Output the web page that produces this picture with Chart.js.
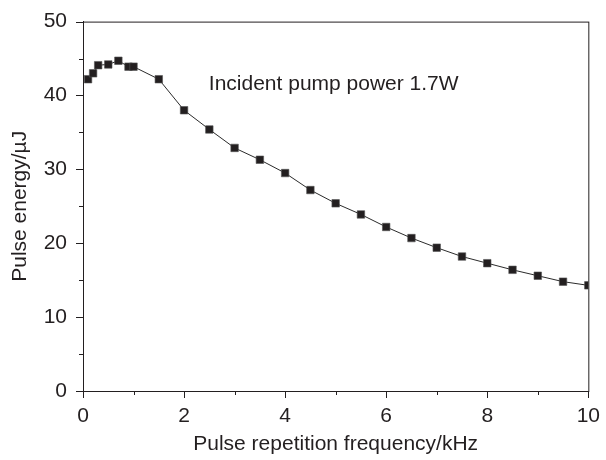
<!DOCTYPE html>
<html>
<head>
<meta charset="utf-8">
<script src="https://cdn.jsdelivr.net/npm/chart.js@4.4.0/dist/chart.umd.min.js"></script>
<style>
  html, body { margin: 0; padding: 0; background: #fff; }
  #wrap { width: 606px; height: 460px; }
</style>
</head>
<body>
<div id="wrap"><canvas id="myChart" width="606" height="460"></canvas></div>
<script>
// pulse repetition frequency (kHz) and pulse energy (uJ)
const frequencies = [0.1, 0.2, 0.3, 0.5, 0.7, 0.9, 1.0, 1.5, 2, 2.5, 3, 3.5, 4, 4.5, 5, 5.5, 6, 6.5, 7, 7.5, 8, 8.5, 9, 9.5, 10];
const energies = [42.2, 43.0, 44.1, 44.2, 44.7, 43.9, 43.9, 42.2, 38.0, 35.4, 32.9, 31.3, 29.5, 27.2, 25.4, 23.9, 22.2, 20.7, 19.4, 18.2, 17.3, 16.4, 15.6, 14.8, 14.3];
const xTicks = [0, 2, 4, 6, 8, 10];
const xMinorTicks = [1, 3, 5, 7, 9];
const yTicks = [0, 10, 20, 30, 40, 50];
const yMinorTicks = [5, 15, 25, 35, 45];
const noteText = 'Incident pump power 1.7W';

const FONT = 'Liberation Sans, Arial, Helvetica, sans-serif';
const INK = '#231f20';

const points = frequencies.map((f, i) => ({ x: f, y: energies[i] }));

// box round the plot, tick marks (long and short) and the label inside it
const framePlugin = {
  id: 'frame',
  afterDraw(chart) {
    const { ctx, chartArea: a, scales } = chart;
    ctx.save();
    ctx.strokeStyle = INK;
    ctx.lineWidth = 1;
    ctx.strokeRect(a.left + 0.5, a.top + 0.5, a.right - a.left, a.bottom - a.top);

    ctx.beginPath();
    xTicks.concat(xMinorTicks).forEach(v => {
      const px = Math.round(scales.x.getPixelForValue(v)) + 0.5;
      const len = xTicks.includes(v) ? 7 : 4;
      ctx.moveTo(px, a.bottom);
      ctx.lineTo(px, a.bottom + len);
    });
    yTicks.concat(yMinorTicks).forEach(v => {
      const py = Math.round(scales.y.getPixelForValue(v)) + 0.5;
      const len = yTicks.includes(v) ? 7 : 4;
      ctx.moveTo(a.left, py);
      ctx.lineTo(a.left - len, py);
    });
    ctx.stroke();

    ctx.fillStyle = INK;
    ctx.font = '21px ' + FONT;
    ctx.textBaseline = 'alphabetic';
    ctx.fillText(noteText, scales.x.getPixelForValue(2.49), scales.y.getPixelForValue(40.7));
    ctx.restore();
  }
};

const ctx = document.getElementById('myChart').getContext('2d');
new Chart(ctx, {
  type: 'scatter',
  data: {
    datasets: [{
      data: points,
      showLine: true,
      borderColor: '#2b2b2b',
      borderWidth: 1,
      pointStyle: 'rect',
      pointRadius: 5.3,
      pointBackgroundColor: INK,
      pointBorderColor: '#555',
      pointBorderWidth: 0.6
    }]
  },
  options: {
    responsive: false,
    animation: false,
    layout: { padding: { top: 12, right: 14, left: 0, bottom: 0 } },
    plugins: { legend: { display: false }, tooltip: { enabled: false } },
    scales: {
      x: {
        type: 'linear',
        min: 0,
        max: 10,
        afterBuildTicks(axis) {
          axis.ticks = xTicks.map(v => ({ value: v }));
        },
        afterFit(axis) { axis.height = 69; },
        grid: {
          drawOnChartArea: false,
          drawTicks: true,
          tickLength: 7,
          tickColor: 'rgba(0,0,0,0)'
        },
        border: { color: INK, width: 1 },
        ticks: {
          color: INK,
          padding: 6,
          maxRotation: 0,
          autoSkip: false,
          font: { family: FONT, size: 21 }
        },
        title: {
          display: true,
          text: 'Pulse repetition frequency/kHz',
          color: INK,
          font: { family: FONT, size: 21 },
          padding: { top: 0, bottom: 3 }
        }
      },
      y: {
        type: 'linear',
        min: 0,
        max: 50,
        afterBuildTicks(axis) {
          axis.ticks = yTicks.map(v => ({ value: v }));
        },
        afterFit(axis) { axis.width = 83; },
        grid: {
          drawOnChartArea: false,
          drawTicks: true,
          tickLength: 7,
          tickColor: 'rgba(0,0,0,0)'
        },
        border: { color: INK, width: 1 },
        ticks: {
          color: INK,
          padding: 9,
          autoSkip: false,
          font: { family: FONT, size: 21 }
        },
        title: {
          display: true,
          text: 'Pulse energy/µJ',
          color: INK,
          font: { family: FONT, size: 21 },
          padding: { top: 8, bottom: 0 }
        }
      }
    }
  },
  plugins: [framePlugin]
});
</script>
</body>
</html>
